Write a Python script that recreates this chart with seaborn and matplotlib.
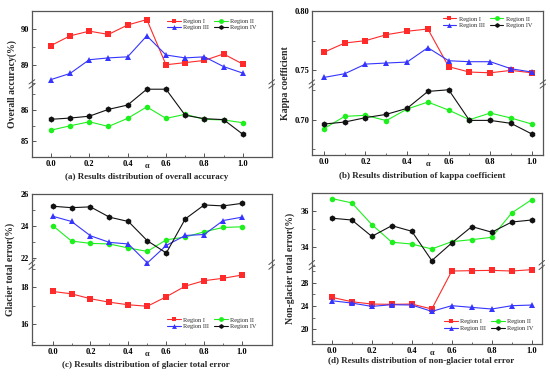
import numpy as np
import pandas as pd
import seaborn as sns
import matplotlib.pyplot as plt
from matplotlib.ticker import MultipleLocator, FixedLocator

sns.set_style('white')
plt.rcParams['font.family'] = ['Liberation Serif', 'DejaVu Serif']
plt.rcParams['font.weight'] = 'bold'

alpha = [0.0, 0.1, 0.2, 0.3, 0.4, 0.5, 0.6, 0.7, 0.8, 0.9, 1.0]
regions = ['Region I', 'Region II', 'Region III', 'Region IV']

oa_r1 = [89.53, 89.80, 89.93, 89.84, 90.10, 90.25, 89.00, 89.06, 89.12, 89.30, 89.02]
oa_r2 = [85.35, 85.49, 85.62, 85.47, 85.73, 86.10, 85.73, 85.86, 85.70, 85.68, 85.59]
oa_r3 = [88.59, 88.76, 89.14, 89.19, 89.22, 89.80, 89.27, 89.19, 89.22, 88.95, 88.77]
oa_r4 = [85.70, 85.74, 85.80, 86.02, 86.16, 86.67, 86.67, 85.83, 85.72, 85.69, 85.22]

kappa_r1 = [0.7652, 0.7730, 0.7750, 0.7800, 0.7829, 0.7848, 0.7531, 0.7486, 0.7480, 0.7500, 0.7480]
kappa_r2 = [0.6924, 0.7028, 0.7037, 0.6992, 0.7090, 0.7149, 0.7081, 0.7000, 0.7056, 0.7014, 0.6963]
kappa_r3 = [0.7441, 0.7472, 0.7553, 0.7562, 0.7570, 0.7691, 0.7581, 0.7573, 0.7573, 0.7514, 0.7486]
kappa_r4 = [0.6963, 0.6980, 0.7017, 0.7045, 0.7096, 0.7239, 0.7253, 0.6994, 0.6994, 0.6969, 0.6879]

gte_r1 = [17.78, 17.65, 17.38, 17.19, 17.05, 16.97, 17.49, 18.07, 18.37, 18.50, 18.68]
gte_r2 = [24.04, 23.07, 22.93, 22.89, 22.64, 22.43, 23.15, 23.32, 23.65, 23.92, 23.96]
gte_r3 = [24.62, 24.29, 23.40, 22.99, 22.89, 21.71, 22.80, 23.42, 23.48, 24.35, 24.56]
gte_r4 = [25.24, 25.15, 25.20, 24.56, 24.29, 23.09, 22.33, 24.45, 25.32, 25.26, 25.42]

ngte_r1 = [25.49, 24.74, 24.34, 24.29, 24.34, 23.49, 30.00, 30.06, 30.11, 30.00, 30.23]
ngte_r2 = [36.68, 36.44, 35.25, 34.28, 34.18, 33.91, 34.31, 34.42, 34.55, 35.89, 36.62]
ngte_r3 = [24.91, 24.51, 23.94, 24.23, 24.17, 23.09, 24.06, 23.77, 23.49, 24.06, 24.17]
ngte_r4 = [35.60, 35.50, 34.60, 35.19, 34.88, 33.27, 34.24, 35.14, 34.83, 35.39, 35.50]

colors = {'Region I': '#ff2a2a', 'Region II': '#1ef01e',
          'Region III': '#3535ff', 'Region IV': '#111111'}
markers = {'Region I': 's', 'Region II': 'o', 'Region III': '^', 'Region IV': 'h'}


def make_df(series):
    rows = []
    for reg, vals in zip(regions, series):
        for a, v in zip(alpha, vals):
            rows.append({'alpha': a, 'value': v, 'Region': reg})
    return pd.DataFrame(rows)


fig = plt.figure(figsize=(5.5, 3.76), dpi=100)


def panel(rect, brk, series, ylim_top, ylim_bot, ticks_top, ticks_bot,
          minor_top, minor_bot, xlim, ylabel, ylabel_x, caption, cap_y, leg_in, leg_anchor):
    left, right, bottom, top = rect
    ax_t = fig.add_axes([left, brk, right - left, top - brk])
    ax_b = fig.add_axes([left, bottom, right - left, brk - bottom])
    df = make_df(series)
    for ax in (ax_t, ax_b):
        for reg in regions:
            sub = df[df['Region'] == reg]
            sns.lineplot(data=sub, x='alpha', y='value', ax=ax, color=colors[reg],
                         marker=markers[reg], markersize=4 if reg != 'Region IV' else 4.5,
                         markeredgewidth=0, linewidth=0.8, legend=False)
        ax.set_xlim(*xlim)
        ax.set_xlabel('')
        ax.set_ylabel('')
        for s in ax.spines.values():
            s.set_color('#555555')
            s.set_linewidth(0.9)
    ax_t.set_ylim(*ylim_top)
    ax_b.set_ylim(*ylim_bot)
    ax_t.spines['bottom'].set_visible(False)
    ax_b.spines['top'].set_visible(False)
    ax_t.yaxis.set_major_locator(FixedLocator(ticks_top))
    ax_b.yaxis.set_major_locator(FixedLocator(ticks_bot))
    ax_t.yaxis.set_minor_locator(MultipleLocator(minor_top))
    ax_b.yaxis.set_minor_locator(MultipleLocator(minor_bot))
    ax_t.set_xticks([])
    ax_b.xaxis.set_major_locator(FixedLocator([0.0, 0.2, 0.4, 0.6, 0.8, 1.0]))
    ax_b.xaxis.set_minor_locator(FixedLocator([0.1, 0.3, 0.5, 0.7, 0.9]))
    ax_b.set_xticklabels(['0.0', '0.2', '0.4', '0.6', '0.8', '1.0'])
    fmt = '%.2f' if ticks_top[0] < 1 else '%d'
    ax_t.set_yticklabels([fmt % t for t in ticks_top])
    ax_b.set_yticklabels([fmt % t for t in ticks_bot])
    for ax in (ax_t, ax_b):
        ax.tick_params(axis='both', which='major', direction='in', length=3, width=0.7,
                       labelsize=6, pad=2, colors='#555555', labelcolor='black')
        ax.tick_params(axis='both', which='minor', direction='in', length=1.8, width=0.6,
                       colors='#555555')
        ax.tick_params(axis='y', which='both', left=True, right=False)
        ax.tick_params(axis='x', which='both', bottom=True, top=False)
    ax_t.tick_params(axis='x', which='both', bottom=False)
    # break marks on both spines
    for xa in (0, 1):
        ax_b.plot([xa - 0.012, xa + 0.012], [1.0 - 0.03, 1.0 + 0.03], transform=ax_b.transAxes,
                  color='#555555', lw=0.7, clip_on=False)
        ax_b.plot([xa - 0.012, xa + 0.012], [1.0 + 0.03, 1.0 + 0.09], transform=ax_b.transAxes,
                  color='#555555', lw=0.7, clip_on=False)
    fig.text(ylabel_x, (bottom + top) / 2, ylabel, rotation=90, ha='center', va='center',
             fontsize=7, fontweight='bold')
    ax_b.annotate('α', xy=(0.5, 0), xycoords=('data', 'axes fraction'), xytext=(0, -9),
                  textcoords='offset pixels', ha='center', va='center', fontsize=6)
    fig.text((left + right) / 2 - 0.01, cap_y, caption, ha='center', va='center',
             fontsize=6.5, fontweight='bold')
    target = ax_t if leg_in == 'top' else ax_b
    order = ['Region I', 'Region III', 'Region II', 'Region IV']
    handles = [plt.Line2D([], [], color=colors[r], marker=markers[r], markersize=3.5,
                          markeredgewidth=0, lw=0.8) for r in order]
    target.legend(handles, order, ncol=2, loc='center', bbox_to_anchor=leg_anchor,
                  frameon=False, handlelength=2.2, columnspacing=0.8,
                  labelspacing=0.2, handletextpad=0.4, prop={'weight': 'normal', 'size': 4.5})


panel((0.058, 0.494, 0.582, 0.971), 0.771, [oa_r1, oa_r2, oa_r3, oa_r4],
      (88.41, 90.49), (84.48, 86.77), [89, 90], [85, 86],
      0.5, 0.5, (-0.099, 1.151), 'Overall accuracy(%)', 0.022,
      '(a) Results distribution of overall accuracy', 0.529, 'top', (0.75, 0.82))

panel((0.567, 0.987, 0.588, 0.971), 0.771, [kappa_r1, kappa_r2, kappa_r3, kappa_r4],
      (0.7368, 0.80), (0.6702, 0.7284), [0.75, 0.80], [0.70],
      0.025, 0.025, (-0.058, 1.053), 'Kappa coefficient', 0.52,
      '(b) Results distribution of kappa coefficient', 0.532, 'top', (0.76, 0.85))

panel((0.058, 0.494, 0.082, 0.484), 0.29, [gte_r1, gte_r2, gte_r3, gte_r4],
      (21.46, 26.0), (14.84, 19.12),
      [22, 24, 26], [16, 18], 1, 1, (-0.109, 1.156), 'Glacier total error(%)', 0.018,
      '(c) Results distribution of glacier total error', 0.03, 'bottom', (0.75, 0.28))

panel((0.567, 0.985, 0.085, 0.487), 0.289, [ngte_r1, ngte_r2, ngte_r3, ngte_r4],
      (32.9, 36.99), (17.49, 30.63), [34, 36], [20, 24, 28],
      1, 2, (-0.1, 1.05), 'Non-glacier total error(%)', 0.527,
      '(d) Results distribution of non-glacier total error', 0.039, 'bottom', (0.77, 0.25))

fig.savefig('out.png', dpi=100)
